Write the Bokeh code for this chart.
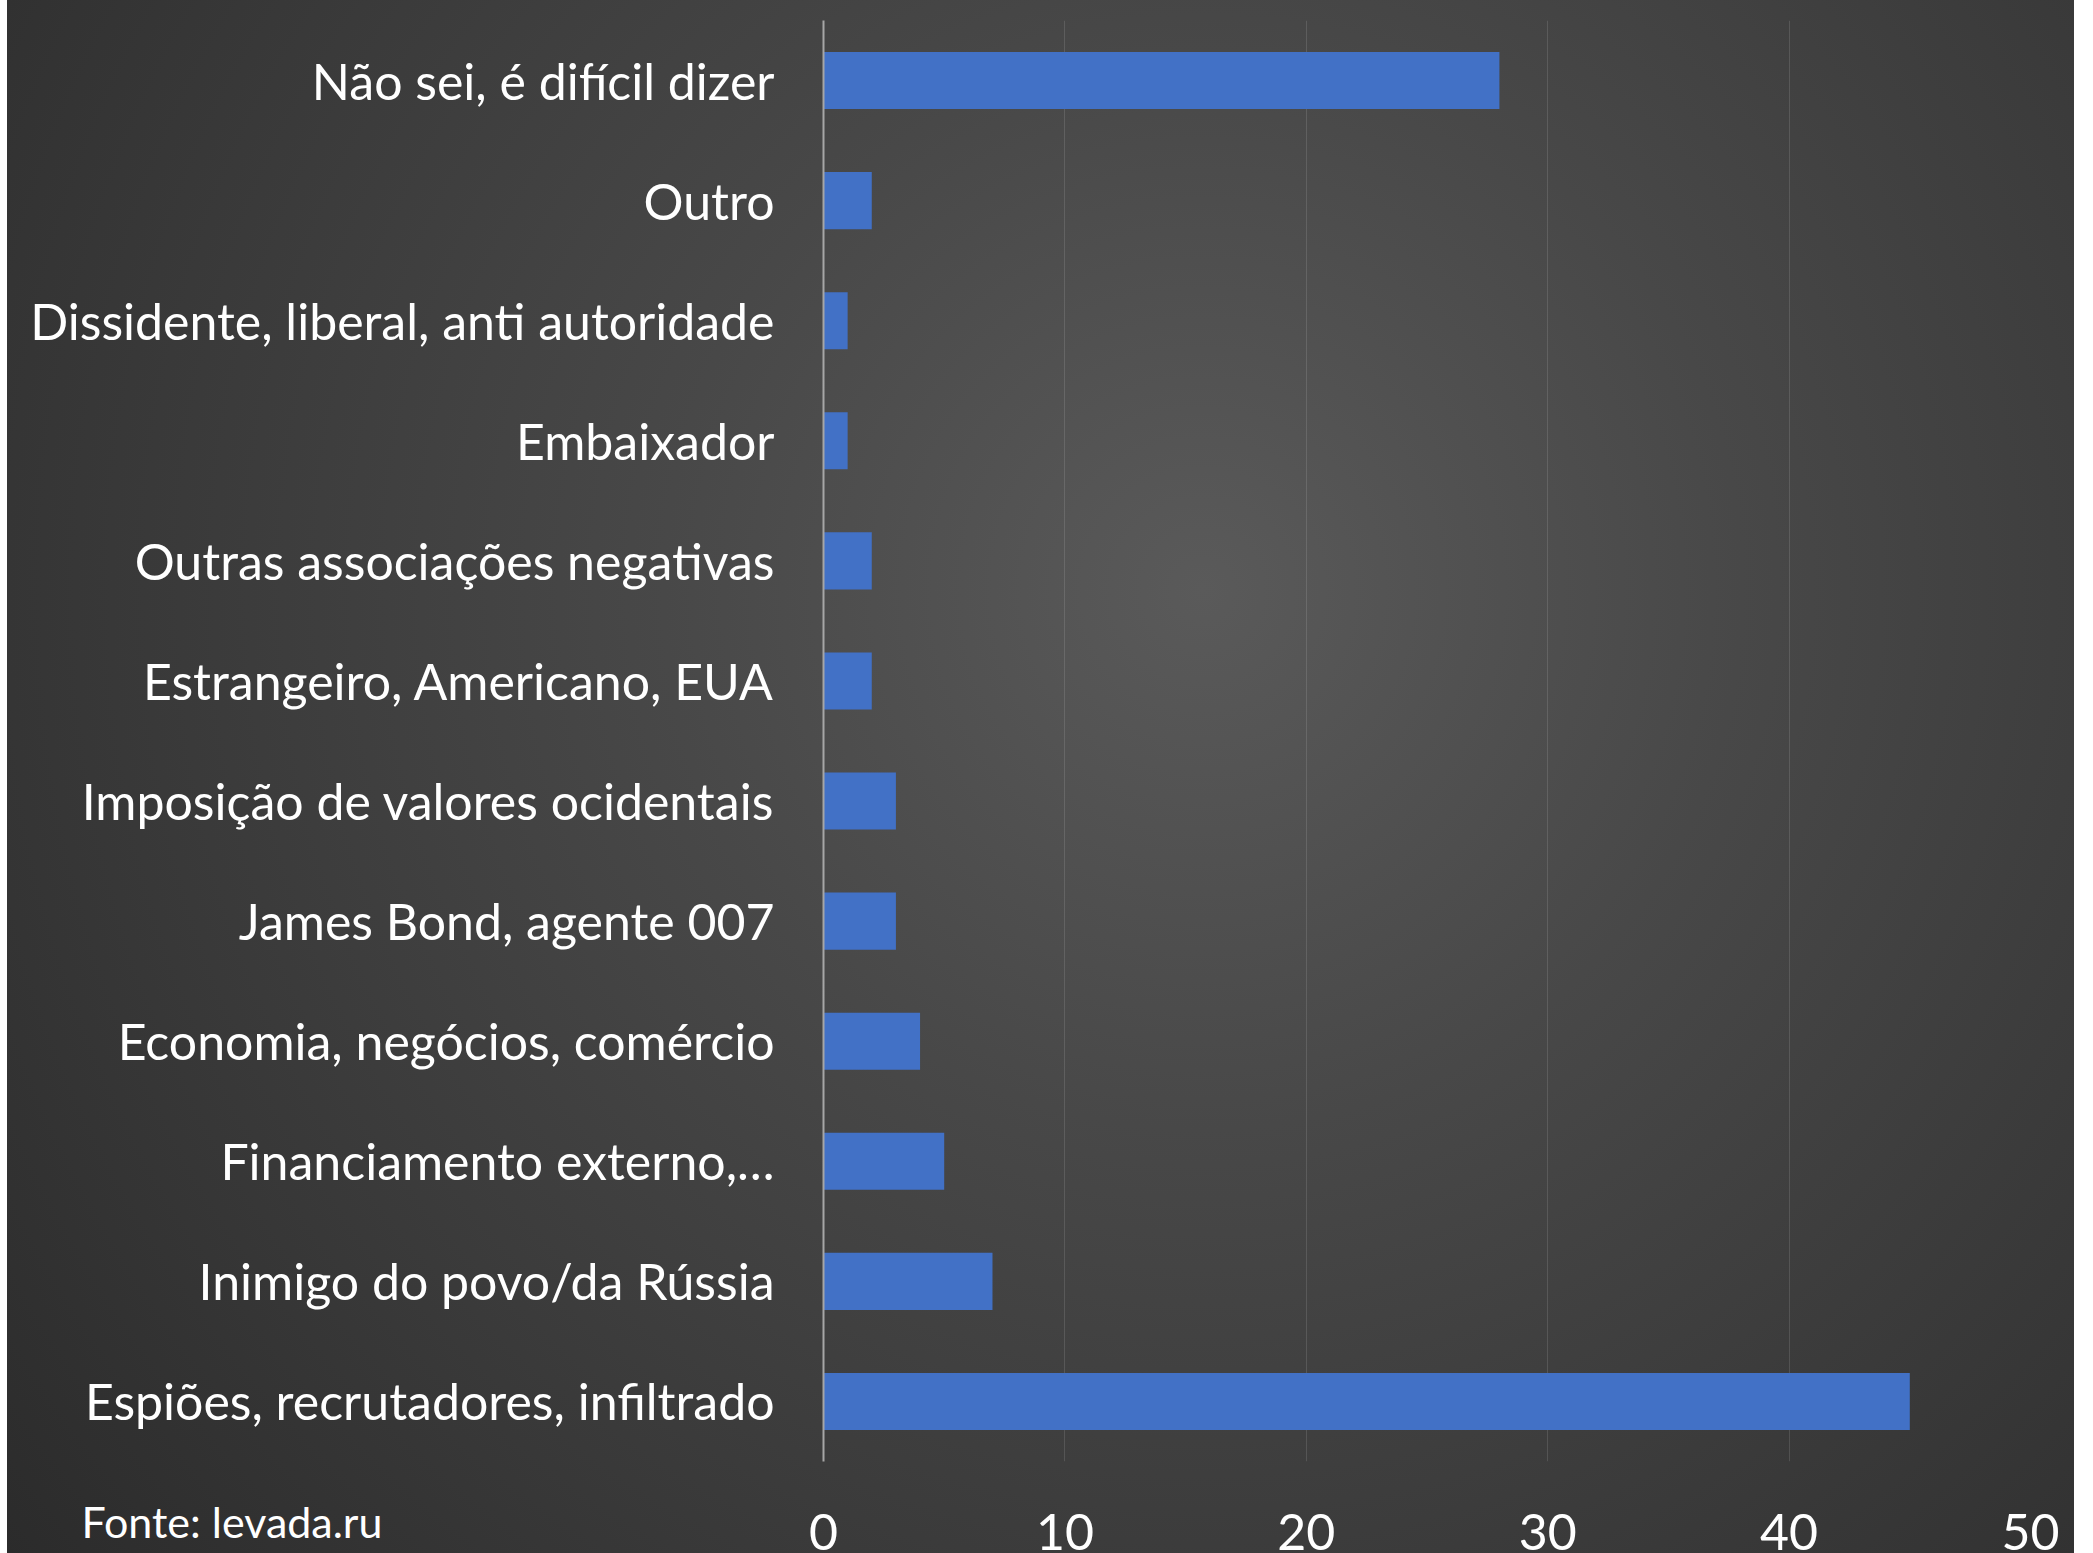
from bokeh.plotting import figure
from bokeh.models import FactorRange, Range1d, FixedTicker, Title
from bokeh.embed import file_html
from bokeh.resources import INLINE

categories = [
    "Não sei, é difícil dizer",
    "Outro",
    "Dissidente, liberal, anti autoridade",
    "Embaixador",
    "Outras associações negativas",
    "Estrangeiro, Americano, EUA",
    "Imposição de valores ocidentais",
    "James Bond, agente 007",
    "Economia, negócios, comércio",
    "Financiamento externo,…",
    "Inimigo do povo/da Rússia",
    "Espiões, recrutadores, infiltrado",
]
values = [28, 2, 1, 1, 2, 2, 3, 3, 4, 5, 7, 45]
x_ticks = [0, 10, 20, 30, 40, 50]
source_note = "Fonte: levada.ru"

FONT = "Lato"

p = figure(
    width=2074, height=1553,
    y_range=FactorRange(*reversed(categories)),
    x_range=Range1d(0, 50),
    output_backend="svg", toolbar_location=None,
    min_border_left=823, min_border_right=44,
    min_border_top=20, min_border_bottom=92,
)
p.styles = {"background": (
    "linear-gradient(to right, #ffffff 0px, #ffffff 7px, rgba(0,0,0,0) 7px), "
    "radial-gradient(circle farthest-corner at 58% 38%, #5a5a5a 0%, #484848 35%, #2b2b2b 100%)")}
p.border_fill_alpha = 0
p.background_fill_alpha = 0
p.outline_line_color = None

p.hbar(y=categories, right=values, left=0, height=0.475,
       fill_color="#4271c6", line_color=None)

# x axis
xa = p.xaxis[0]
xa.ticker = FixedTicker(ticks=x_ticks)
xa.axis_line_color = None
xa.major_tick_line_color = None
xa.minor_tick_line_color = None
xa.major_label_text_color = "white"
xa.major_label_text_font = FONT
xa.major_label_text_font_size = "50px"
xa.major_label_standoff = 46

# y axis
ya = p.yaxis[0]
ya.axis_line_color = "#a6a6a6"
ya.axis_line_width = 2
ya.major_tick_line_color = None
ya.minor_tick_line_color = None
ya.major_label_text_color = "white"
ya.major_label_text_font = FONT
ya.major_label_text_font_size = "50px"
ya.major_label_standoff = 43

p.ygrid.grid_line_color = None
p.xgrid.ticker = FixedTicker(ticks=x_ticks[1:])
p.xgrid.grid_line_color = "white"
p.xgrid.grid_line_alpha = 0.12
p.xgrid.grid_line_width = 1

# source note, placed in the bottom side panel (not clipped to the frame)
note = Title(text=source_note, align="left", vertical_align="top",
             offset=-742, standoff=-114,
             text_color="white", text_font=FONT, text_font_style="normal",
             text_font_size="43px")
p.add_layout(note, "below")

open("out.html", "w").write(file_html(p, INLINE))
